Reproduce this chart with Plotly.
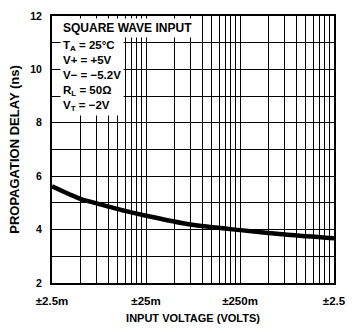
import plotly.graph_objects as go

# Data
voltage = [0.0025, 0.005, 0.0075, 0.015, 0.025, 0.075, 0.25, 0.8, 2.5]
delay_ns = [5.62, 5.15, 4.98, 4.70, 4.52, 4.19, 3.98, 3.81, 3.68]

x_tickvals = [0.0025, 0.025, 0.25, 2.5]
x_ticktext = ["±2.5m", "±25m", "±250m", "±2.5"]
x_minor = [0.0025 * k * 10 ** n for n in range(3) for k in range(2, 10)]
y_tickvals = [2, 4, 6, 8, 10, 12]

FONT = "Liberation Sans, Arial, sans-serif"

fig = go.Figure()
fig.add_trace(go.Scatter(
    x=voltage, y=delay_ns, mode="lines",
    line=dict(color="black", width=4.5, shape="spline", smoothing=0.8),
    hoverinfo="skip", showlegend=False,
))

fig.update_layout(
    width=356, height=333,
    margin=dict(l=52, r=19, t=10, b=40),
    paper_bgcolor="white", plot_bgcolor="white",
    font=dict(family=FONT, color="black"),
    xaxis=dict(
        type="log", range=[-2.60206, 0.39794],
        tickmode="array", tickvals=x_tickvals, ticktext=x_ticktext,
        tickfont=dict(size=11.5, weight="bold", family=FONT),
        ticks="", ticklabelstandoff=6,
        showgrid=True, gridcolor="black", gridwidth=1.2,
        minor=dict(tickmode="array", tickvals=x_minor, showgrid=True,
                   gridcolor="black", gridwidth=1, ticks=""),
        showline=True, linecolor="black", linewidth=2, mirror=True,
        zeroline=False,
        title=dict(text="<b>INPUT VOLTAGE (VOLTS)</b>", font=dict(size=11, family=FONT), standoff=9),
    ),
    yaxis=dict(
        range=[2, 12],
        tickmode="array", tickvals=y_tickvals,
        tickfont=dict(size=10.5, weight="bold", family=FONT),
        ticks="", ticklabelstandoff=6,
        showgrid=True, gridcolor="black", gridwidth=1,
        minor=dict(dtick=1, showgrid=True, gridcolor="black", gridwidth=1, ticks=""),
        showline=True, linecolor="black", linewidth=2, mirror=True,
        zeroline=False,
        title=dict(text="<b>PROPAGATION DELAY (ns)</b>", font=dict(size=13, family=FONT), standoff=8),
    ),
)

fig.add_annotation(
    xref="paper", yref="paper", x=0.03, y=0.992, xanchor="left", yanchor="top",
    text="<b>SQUARE WAVE INPUT</b>", showarrow=False,
    font=dict(size=12, family=FONT, color="black"),
    bgcolor="white", borderpad=2, align="left",
)
fig.add_annotation(
    xref="paper", yref="paper", x=0.03, y=0.926, xanchor="left", yanchor="top",
    text=("<b>T<sub>A</sub> = 25°C</b><br><b>V+ = +5V</b><br><b>V− = −5.2V</b>"
          "<br><b>R<sub>L</sub> = 50Ω</b><br><b>V<sub>T</sub> = −2V</b>"),
    showarrow=False, font=dict(size=11.5, family=FONT, color="black"),
    bgcolor="white", borderpad=2, align="left",
)

fig.write_html("out.html")
